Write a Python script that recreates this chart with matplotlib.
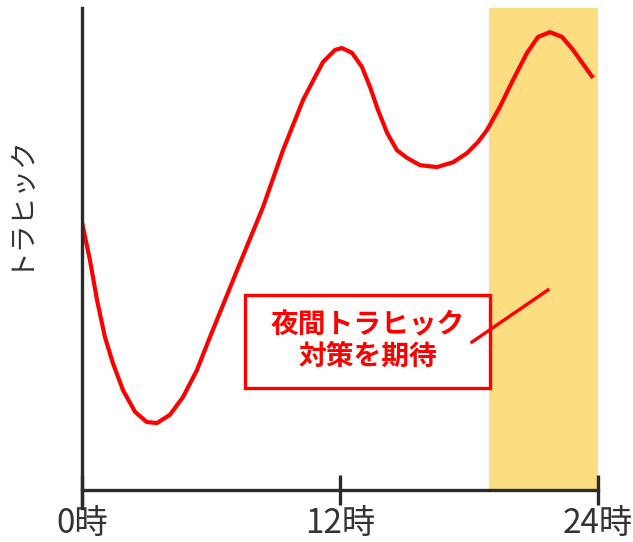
import matplotlib

matplotlib.use("Agg")
import matplotlib.pyplot as plt
from matplotlib.patches import Rectangle

plt.rcParams["font.family"] = ["Noto Sans CJK JP", "DejaVu Sans"]

# 時刻(時) とトラヒック量(相対値, 0-100)
hours = [0.00, 0.37, 0.70, 1.07, 1.44, 1.91, 2.47, 3.02, 3.49, 4.09, 4.70, 5.35,
         5.86, 6.56, 7.26, 8.42, 9.35, 10.28, 10.84, 11.21, 11.77, 12.09, 12.56,
         13.02, 13.40, 13.77, 14.19, 14.65, 15.12, 15.72, 16.51, 17.26, 17.91,
         18.42, 18.84, 19.44, 20.05, 20.70, 21.21, 21.77, 22.33, 22.84, 23.40, 23.77]
traffic = [55.6, 47.7, 39.4, 31.7, 26.3, 20.7, 16.2, 14.1, 13.9, 15.6, 19.3, 24.9,
           30.7, 38.4, 46.1, 58.7, 70.5, 80.9, 85.7, 88.8, 91.3, 91.7, 90.7,
           87.8, 83.6, 78.8, 74.1, 70.5, 68.9, 67.4, 67.0, 68.0, 69.9,
           72.2, 74.7, 79.5, 85.1, 90.7, 94.0, 95.0, 94.0, 91.3, 87.8, 85.5]

tick_hours = [0, 12, 24]
tick_labels = ["0時", "12時", "24時"]

night_start, night_end = 18.95, 24
box_x0, box_x1 = 7.58, 18.98
box_y0, box_y1 = 21.2, 40.5
leader_x = [18.14, 21.67]
leader_y = [30.7, 41.5]

fig = plt.figure(figsize=(6.33, 5.42), dpi=100)
ax = fig.add_axes([0.1295, 0.0959, 0.8152, 0.8893])
ax.set_xlim(0, 24)
ax.set_ylim(0, 100)

axis_color = "#2b2b2b"
ax.axvspan(night_start, night_end, color="#fddd82", lw=0, zorder=0)
ax.plot(hours, traffic, color="#ff0000", lw=3, zorder=3,
        solid_joinstyle="round", solid_capstyle="butt")

# 注釈の枠とテキスト
ax.add_patch(Rectangle((box_x0, box_y0), box_x1 - box_x0, box_y1 - box_y0,
                       facecolor="white", edgecolor="#ff0000", lw=2.4, zorder=4))
ax.text((box_x0 + box_x1) / 2, (box_y0 + box_y1) / 2, "夜間トラヒック\n対策を期待",
        ha="center", va="center", color="#ff0000", fontsize=20, fontweight="bold",
        linespacing=1.15, zorder=5)
ax.plot(leader_x, leader_y, color="#ff0000", lw=2.4, zorder=4)

for side in ["top", "right"]:
    ax.spines[side].set_visible(False)
for side in ["left", "bottom"]:
    ax.spines[side].set_color(axis_color)
    ax.spines[side].set_linewidth(2.4)
    ax.spines[side].set_zorder(6)
ax.spines["left"].set_bounds(-3.7, 100)

ax.set_xticks(tick_hours)
ax.set_xticklabels(tick_labels)
ax.tick_params(axis="x", direction="inout", length=21, width=2.4, color=axis_color,
               labelsize=24, labelcolor="#333333", pad=1)
ax.set_yticks([])
ax.set_ylabel("トラヒック", fontsize=20, color="#333333")
ax.yaxis.set_label_coords(-0.098, 0.601)

fig.savefig("out.png", dpi=100)
